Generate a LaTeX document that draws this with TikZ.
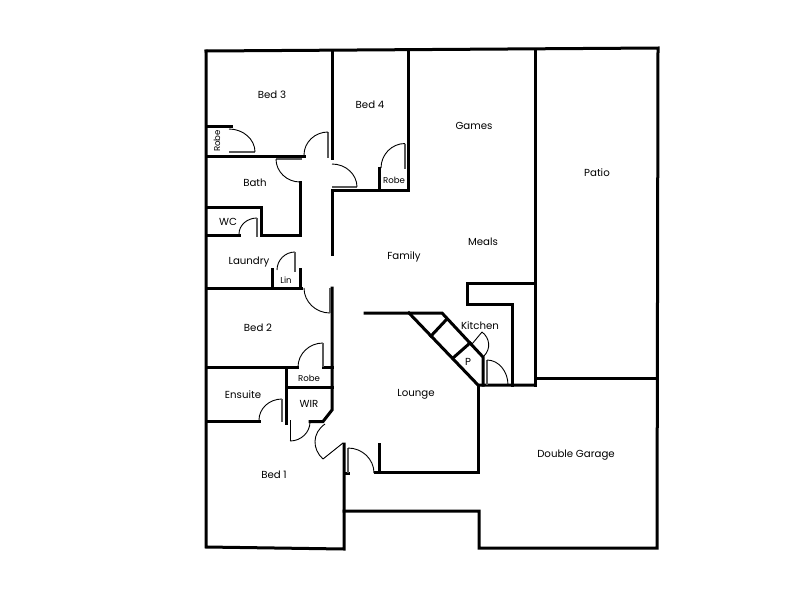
\documentclass[tikz,border=0pt]{standalone}
\usepackage{fontspec}
\usetikzlibrary{calc}
\setmainfont{Poppins}
\tikzset{
  wall/.style={draw=black,line width=3pt,line cap=rect,line join=miter},
  leaf/.style={draw=black!65,line width=1.2pt},
  swing/.style={draw=black,line width=0.9pt},
  room/.style={font=\fontsize{10.2}{12}\selectfont,text=black,inner sep=0pt},
  small/.style={font=\fontsize{8.6}{10}\selectfont,text=black,inner sep=0pt}
}
\newcommand\doorarc[3]{\draw[swing] (#1) .. controls ($(#1)!0.55!(#2)$) and ($(#3)!0.55!(#2)$) .. (#3);}
\begin{document}
\begin{tikzpicture}[x=1pt,y=-1pt]
\useasboundingbox[fill=white] (0,0) rectangle (800,600);
% outer walls
\draw[wall] (206,51) -- (658,48) -- (657,548) -- (479,548) -- (479,511) -- (344,511);
\draw[wall] (206,51) -- (206,547) -- (344,549) -- (344,444);
% bedrooms wing
\draw[wall] (332,51) -- (332,158);
\draw[wall] (408,50) -- (408,190) -- (332,190) -- (332,254);
\draw[wall] (379,168) -- (379,190);
\draw[wall] (206,126) -- (231,126);
\draw[wall] (206,156) -- (304,156);
\draw[wall] (300,182) -- (300,235) -- (261,235) -- (261,207) -- (206,207);
\draw[wall] (206,235) -- (239,235);
\draw[wall] (206,288) -- (301,288);
\draw[wall] (272,269) -- (272,288);
\draw[wall] (300,269) -- (300,288);
\draw[wall] (332,288) -- (332,410) -- (323,421.5) -- (310,421.5);
\draw[wall] (206,367) -- (297,367);
\draw[wall] (323,367) -- (332,367);
\draw[wall] (286,367) -- (286,423);
\draw[wall] (286,387) -- (332,387);
\draw[wall] (206,421) -- (259,421);
% lounge
\draw[wall] (344,473) -- (348,473);
\draw[wall] (375,472.5) -- (478,472.5) -- (478,385);
\draw[wall] (379,444) -- (379,472);
% kitchen
\draw[wall] (365,313) -- (442,313) -- (483,357) -- (483,385);
\draw[wall] (409,313) -- (478,385) -- (535,385);
\draw[wall] (446,320) -- (431,336);
\draw[wall] (470,343) -- (453,358);
\draw[wall] (512,385) -- (512,304) -- (467,304) -- (467,283) -- (535,283);
\draw[wall] (535,50) -- (535,385);
\draw[wall] (535,378) -- (657,378);
% door leaves and swings
\draw[leaf] (229,152) -- (255,152);
\doorarc{229,129}{255,129}{255,152}
\draw[leaf] (328,132) -- (328,158);
\doorarc{304,155}{304,132}{328,132}
\draw[leaf] (276,159) -- (302,159);
\doorarc{276,159}{276,182}{300,182}
\draw[leaf] (332,187) -- (357,187);
\doorarc{332,164}{357,164}{357,187}
\doorarc{381,168}{381,143.5}{405,143.5}
\draw[leaf] (405,143.5) -- (405,169);
\doorarc{239,234}{239,218}{257,218}
\draw[leaf] (257,218) -- (257,237);
\doorarc{277,270}{277,252}{295,252}
\draw[leaf] (295,252) -- (295,272);
\doorarc{304,288}{304,313}{330,313}
\draw[leaf] (330,313) -- (330,288);
\doorarc{298,367}{298,343}{323,343}
\draw[leaf] (323,343) -- (323,367);
\doorarc{259,420}{259,399}{282,399}
\draw[leaf] (282,399) -- (282,422);
\draw[swing] (290,420) -- (290,441);
\doorarc{290,441}{310,441}{310,422}
\draw[swing] (343,443) -- (323,459);
\draw[swing] (323,459) .. controls (312,449) and (312,433) .. (325,424);
\draw[leaf] (348,448) -- (348,473);
\doorarc{348,448}{374,448}{374,473}
\draw[swing] (472,344) -- (482,332);
\draw[swing] (482,332) .. controls (490,338) and (491,349) .. (484,356);
\draw[leaf] (487,360) -- (487,385);
\doorarc{487,360}{508,360}{508,385}
% labels
\node[room] (bed3) at (272,95) {Bed 3};
\node[room] (bed4) at (370,105) {Bed 4};
\node[room] (games) at (474,126) {Games};
\node[room] (patio) at (597,173) {Patio};
\node[room] (bath) at (255,183) {Bath};
\node[small,rotate=90] (robe3) at (217,141) {Robe};
\node[small] (robe4) at (394,180.5) {Robe};
\node[room] (wc) at (228,222) {WC};
\node[room] (laundry) at (249,262) {Laundry};
\node[small] (lin) at (286,280.5) {Lin};
\node[room] (family) at (404,257) {Family};
\node[room] (meals) at (483,242) {Meals};
\node[room] (bed2) at (258,328) {Bed 2};
\node[room] (kitchen) at (480,326) {Kitchen};
\node[room] (p) at (468,362) {P};
\node[small] (robe2) at (309,378.5) {Robe};
\node[room] (ensuite) at (243,395) {Ensuite};
\node[room] (wir) at (309,404) {WIR};
\node[room] (lounge) at (416,394) {Lounge};
\node[room] (bed1) at (274,475) {Bed 1};
\node[room] (garage) at (576,455) {Double Garage};
\end{tikzpicture}
\end{document}
